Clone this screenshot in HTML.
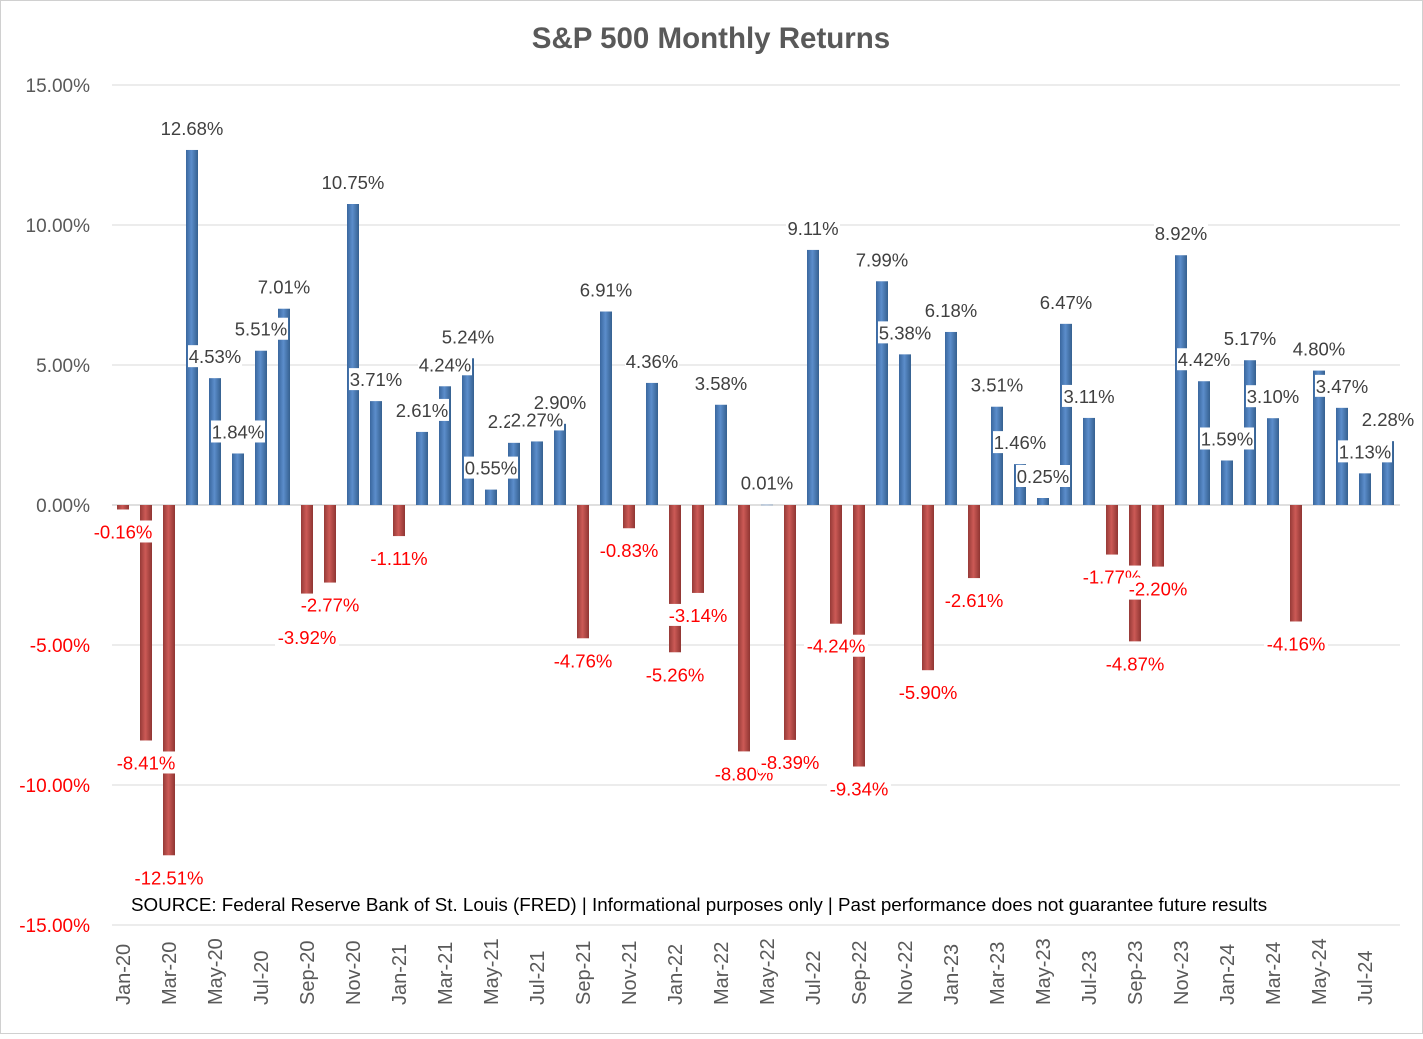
<!DOCTYPE html>
<html><head><meta charset="utf-8"><style>
body{margin:0;background:#fff}
svg text{font-family:"Liberation Sans",Calibri,sans-serif}
</style></head><body>
<svg id="chart" width="1423" height="1034" viewBox="0 0 1423 1034" xmlns="http://www.w3.org/2000/svg">
<defs>
<linearGradient id="gb" x1="0" x2="1" y1="0" y2="0"><stop offset="0" stop-color="#3a679e"/><stop offset="0.45" stop-color="#5b8dcb"/><stop offset="1" stop-color="#35608f"/></linearGradient>
<linearGradient id="gr" x1="0" x2="1" y1="0" y2="0"><stop offset="0" stop-color="#963a37"/><stop offset="0.45" stop-color="#cc5a56"/><stop offset="1" stop-color="#8f3532"/></linearGradient>
</defs>
<rect x="0.5" y="0.5" width="1422" height="1033" fill="#fff" stroke="#d0d0d0"/>
<text x="711" y="48" text-anchor="middle" font-size="29.5" font-weight="bold" fill="#595959">S&amp;P 500 Monthly Returns</text>
<g id="grid"></g><g id="bars"></g><g id="labels"></g><g id="xaxis"></g>
<text x="131" y="911" font-size="18.8" fill="#000">SOURCE: Federal Reserve Bank of St. Louis (FRED) | Informational purposes only | Past performance does not guarantee future results</text>
</svg>
<script>
const months=["Jan-20","Feb-20","Mar-20","Apr-20","May-20","Jun-20","Jul-20","Aug-20","Sep-20","Oct-20","Nov-20","Dec-20","Jan-21","Feb-21","Mar-21","Apr-21","May-21","Jun-21","Jul-21","Aug-21","Sep-21","Oct-21","Nov-21","Dec-21","Jan-22","Feb-22","Mar-22","Apr-22","May-22","Jun-22","Jul-22","Aug-22","Sep-22","Oct-22","Nov-22","Dec-22","Jan-23","Feb-23","Mar-23","Apr-23","May-23","Jun-23","Jul-23","Aug-23","Sep-23","Oct-23","Nov-23","Dec-23","Jan-24","Feb-24","Mar-24","Apr-24","May-24","Jun-24","Jul-24","Aug-24"];
const returns=[-0.16,-8.41,-12.51,12.68,4.53,1.84,5.51,7.01,-3.92,-2.77,10.75,3.71,-1.11,2.61,4.24,5.24,0.55,2.22,2.27,2.90,-4.76,6.91,-0.83,4.36,-5.26,-3.14,3.58,-8.80,0.01,-8.39,9.11,-4.24,-9.34,7.99,5.38,-5.90,6.18,-2.61,3.51,1.46,0.25,6.47,3.11,-1.77,-4.87,-2.20,8.92,4.42,1.59,5.17,3.10,-4.16,4.80,3.47,1.13,2.28];
const yTicks=[15,10,5,0,-5,-10,-15];
const NS="http://www.w3.org/2000/svg";
function y(v){return 505-v*28;}
function x(i){return 123+i*23;}
function mk(t,a,p){const e=document.createElementNS(NS,t);for(const k in a)e.setAttribute(k,a[k]);p.appendChild(e);return e;}
const grid=document.getElementById('grid'),bars=document.getElementById('bars'),labels=document.getElementById('labels'),xa=document.getElementById('xaxis');
yTicks.forEach(t=>{
  const l=mk('line',{x1:112,x2:1400,y1:y(t),y2:y(t),stroke:t===0?'#bfbfbf':'#d9d9d9','stroke-width':1},grid);
  
  
  const tx=mk('text',{x:90,y:y(t)+7,'text-anchor':'end','font-size':19,fill:t<0?'#ff0000':'#595959'},grid);
  tx.textContent=t.toFixed(2)+'%';
  
  
});
returns.forEach((v,i)=>{
  const cx=x(i),w=12;
  const top=Math.min(y(v),y(0)),h=Math.abs(y(v)-y(0));
  const r=mk('rect',{x:cx-w/2,y:top,width:w,height:Math.max(h,0.5),fill:v>=0?'url(#gb)':'url(#gr)'},bars);
  
  
  const s=v.toFixed(2)+'%';
  const ly=v>=0?y(v)-21:y(v)+23;
  const tw=s.length*10;
  const bg=mk('rect',{x:cx-tw/2-2,y:ly-12,width:tw+4,height:22,fill:'#fff'},labels);
  
  
  const t=mk('text',{x:cx,y:ly+6,'text-anchor':'middle','font-size':18.5,fill:v<0?'#ff0000':'#404040'},labels);
  t.textContent=s;
  
  
  if(i%2===0){
    const xl=mk('text',{transform:`translate(${cx+7},${1005}) rotate(-90)`,'font-size':20,fill:'#595959'},xa);
    xl.textContent=months[i];
    
    
  }
});
</script>
</body></html>
